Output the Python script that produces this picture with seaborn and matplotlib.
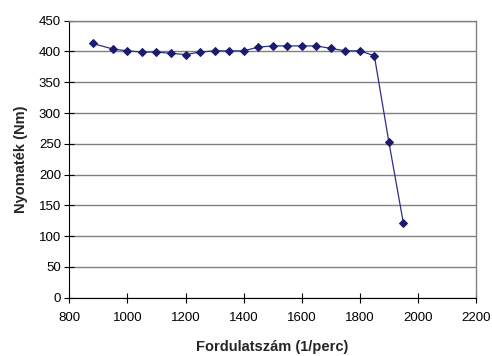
import matplotlib
matplotlib.use("Agg")
import matplotlib.pyplot as plt
import seaborn as sns
import pandas as pd

rpm = [880, 950, 1000, 1050, 1100, 1150, 1200, 1250, 1300, 1350, 1400, 1450,
       1500, 1550, 1600, 1650, 1700, 1750, 1800, 1850, 1900, 1950]
torque = [413, 404, 401, 399, 399, 397, 395, 399, 401, 401, 401, 407,
          409, 409, 409, 409, 405, 401, 401, 393, 253, 121]
x_ticks = [800, 1000, 1200, 1400, 1600, 1800, 2000, 2200]
y_ticks = [0, 50, 100, 150, 200, 250, 300, 350, 400, 450]

sns.set_style("white")
plt.rcParams["font.family"] = ["Liberation Sans", "DejaVu Sans"]

df = pd.DataFrame({"rpm": rpm, "torque": torque})

fig = plt.figure(figsize=(4.92, 3.56), dpi=100)
ax = fig.add_axes([0.1409, 0.1638, 0.8266, 0.7781])

sns.lineplot(data=df, x="rpm", y="torque", ax=ax, color="#2e2e8a",
             linewidth=0.9, marker="D", markersize=4.2,
             markerfacecolor="#1c1c6e", markeredgecolor="#1c1c6e")

ax.set_xlim(800, 2200)
ax.set_ylim(0, 450)
ax.set_xticks(x_ticks)
ax.set_yticks(y_ticks)
ax.set_xticklabels([str(v) for v in x_ticks], fontsize=9.5)
ax.set_yticklabels([str(v) for v in y_ticks], fontsize=9.5)
ax.yaxis.grid(True, color="#808080", linewidth=1.0)
ax.set_axisbelow(True)
for s in ["top", "right"]:
    ax.spines[s].set_color("#808080")
    ax.spines[s].set_linewidth(1.0)
for s in ["left", "bottom"]:
    ax.spines[s].set_color("black")
    ax.spines[s].set_linewidth(0.8)
ax.tick_params(axis="y", direction="inout", length=7, width=0.8,
               color="black", pad=2.5, labelcolor="black", left=True)
ax.tick_params(axis="x", direction="inout", length=7, width=0.8,
               color="black", pad=7, labelcolor="black", bottom=True)
ax.set_xlabel("Fordulatszám (1/perc)", fontsize=10.5, fontweight="bold")
ax.set_ylabel("Nyomaték (Nm)", fontsize=10.5, fontweight="bold")
ax.xaxis.set_label_coords(0.5, -0.152)
ax.yaxis.set_label_coords(-0.101, 0.5)

fig.savefig("out.png", dpi=100)
